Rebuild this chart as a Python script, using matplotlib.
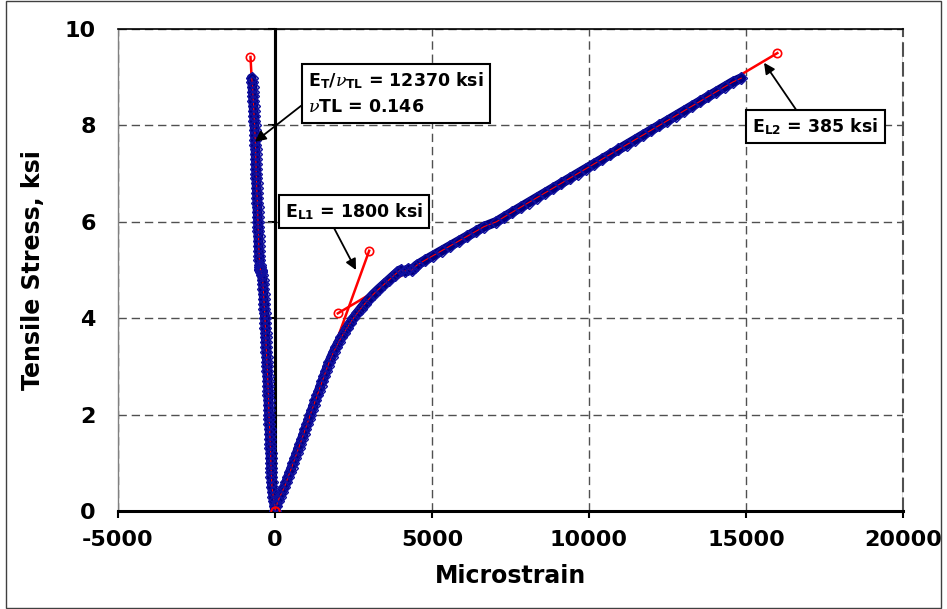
import numpy as np
import matplotlib
matplotlib.use("Agg")
import matplotlib.pyplot as plt
from matplotlib.patches import Rectangle

# -------------------------------
# Test data
# -------------------------------
stress = [0.0, 0.1, 0.2, 0.3, 0.4, 0.5, 0.6, 0.7, 0.8, 0.9,
          1.0, 1.1, 1.2, 1.3, 1.4, 1.5, 1.6, 1.7, 1.8, 1.9,
          2.0, 2.1, 2.2, 2.3, 2.4, 2.5, 2.6, 2.7, 2.8, 2.9,
          3.0, 3.1, 3.2, 3.3, 3.4, 3.5, 3.6, 3.7, 3.8, 3.9,
          4.0, 4.1, 4.2, 4.3, 4.4, 4.5, 4.6, 4.7, 4.8, 4.9,
          4.95, 5.0, 4.97, 5.02, 4.99, 5.06,
          5.1, 5.2, 5.3, 5.4, 5.5, 5.6, 5.7, 5.8, 5.9,
          6.0, 6.1, 6.2, 6.3, 6.4, 6.5, 6.6, 6.7, 6.8, 6.9,
          7.0, 7.1, 7.2, 7.3, 7.4, 7.5, 7.6, 7.7, 7.8, 7.9,
          8.0, 8.1, 8.2, 8.3, 8.4, 8.5, 8.6, 8.7, 8.8, 8.9, 8.98]

long_strain = [0, 40, 90, 160, 230, 300, 360, 415, 470, 530,
               585, 640, 695, 750, 805, 860, 915, 965, 1020, 1075,
               1125, 1180, 1235, 1290, 1345, 1400, 1455, 1510, 1565, 1620,
               1675, 1735, 1800, 1870, 1945, 2025, 2110, 2200, 2295, 2395,
               2500, 2615, 2735, 2860, 2995, 3140, 3300, 3470, 3640, 3810,
               3900, 4000, 4150, 4250, 4350, 4450,
               4520, 4770, 5040, 5310, 5580, 5850, 6120, 6390, 6660,
               7050, 7300, 7560, 7820, 8080, 8340, 8600, 8860, 9120, 9380,
               9640, 9900, 10160, 10420, 10680, 10940, 11200, 11460, 11720, 11980,
               12240, 12500, 12760, 13020, 13280, 13540, 13800, 14060, 14320, 14580, 14850]

trans_strain = [0, -15, -35, -55, -75, -95, -105, -112, -118, -124,
                -130, -135, -140, -146, -152, -158, -164, -170, -176, -183,
                -190, -195, -200, -205, -210, -215, -221, -228, -235, -242,
                -250, -257, -264, -272, -280, -287, -294, -300, -306, -312,
                -318, -327, -336, -345, -354, -363, -372, -381, -395, -420,
                -440, -450, -458, -465, -470, -478,
                -485, -495, -503, -510, -515, -520, -525, -530, -535,
                -540, -545, -550, -556, -562, -568, -574, -580, -586, -592,
                -598, -602, -606, -610, -614, -618, -624, -630, -636, -642,
                -650, -658, -666, -674, -682, -690, -698, -706, -714, -725, -745]

# fitted modulus lines (end points)
fit_t_x = [0, -780]
fit_t_y = [0, 9.42]
fit_l1_x = [0, 3000]
fit_l1_y = [0, 5.4]
fit_l2_x = [2000, 16000]
fit_l2_y = [4.1, 9.5]

xlim = (-5000, 20000)
ylim = (0, 10)
xticks = [-5000, 0, 5000, 10000, 15000, 20000]
yticks = [0, 2, 4, 6, 8, 10]

plt.rcParams["font.family"] = "DejaVu Sans"
plt.rcParams["font.weight"] = "bold"
plt.rcParams["axes.unicode_minus"] = False
plt.rcParams["mathtext.fontset"] = "custom"
plt.rcParams["mathtext.rm"] = "DejaVu Sans:bold"
plt.rcParams["mathtext.bf"] = "DejaVu Sans:bold"
plt.rcParams["mathtext.it"] = "DejaVu Serif:italic:normal"

fig = plt.figure(figsize=(9.47, 6.09), dpi=100)
ax = fig.add_axes([0.1246, 0.1609, 0.8289, 0.7915])

# -------------------------------
# Data series
# -------------------------------
for xs in (trans_strain, long_strain):
    ax.plot(xs, stress, color="#000080", lw=7, solid_capstyle="round", zorder=3)
    ax.plot(xs, stress, color="red", lw=0.8, marker="D", ms=6,
            mfc="none", mec="#1010a0", mew=1.0, zorder=4)

# -------------------------------
# Fit lines
# -------------------------------
for fx, fy in ((fit_t_x, fit_t_y), (fit_l1_x, fit_l1_y), (fit_l2_x, fit_l2_y)):
    ax.plot(fx, fy, color="red", lw=1.8, zorder=2.5)
    ax.plot(fx, fy, ls="none", marker="o", ms=6, mfc="none", mec="red",
            mew=1.2, zorder=5)

# -------------------------------
# Axes styling
# -------------------------------
ax.set_xlim(*xlim)
ax.set_ylim(*ylim)
ax.set_xticks(xticks)
ax.set_yticks(yticks)
ax.tick_params(axis="x", direction="out", length=5, width=1.5, pad=9, labelsize=16)
ax.tick_params(axis="y", length=0, pad=16, labelsize=16)

ax.spines["bottom"].set_linewidth(2.2)
ax.spines["top"].set_linewidth(1.2)
ax.spines["left"].set_color("#808080")
ax.spines["left"].set_linewidth(1)
ax.spines["right"].set_color("#505050")
ax.spines["right"].set_linestyle((0, (6, 3.5)))
ax.spines["right"].set_linewidth(1.5)

ax.grid(True, color="#505050", ls=(0, (6, 3.5)), lw=1)
ax.set_axisbelow(True)

# y axis crossing at zero strain (solid black line over the 0 gridline)
ax.axvline(0, color="black", lw=2.2, zorder=1)
zero_pos = (0 - xlim[0]) / (xlim[1] - xlim[0])
sec = ax.secondary_yaxis(zero_pos)
sec.set_yticks(yticks)
sec.tick_params(direction="out", length=5, width=1.5, labelleft=False, labelright=False)
sec.spines["left"].set_linewidth(2.2)

ax.set_xlabel("Microstrain", fontsize=17, fontweight="bold", labelpad=10)
ax.set_ylabel("Tensile Stress, ksi", fontsize=17, fontweight="bold", labelpad=14)

# -------------------------------
# Annotations
# -------------------------------
box = dict(boxstyle="square,pad=0.35", fc="white", ec="black", lw=1.5)


def arrow(rx, ry):
    return dict(arrowstyle="-|>", color="black", lw=1.3, mutation_scale=16,
                relpos=(rx, ry), shrinkA=0, shrinkB=0)


ax.annotate(r"E$_{\rm T}$/$\nu_{\rm TL}$ = 12370 ksi" + "\n" + r"$\nu$TL = 0.146",
            xy=(-637, 7.66), xytext=(1050, 8.66), fontsize=12.5,
            ha="left", va="center", bbox=box, arrowprops=arrow(0.0, 0.35),
            zorder=6, linespacing=1.5)
ax.annotate(r"E$_{\rm L1}$ = 1800 ksi", xy=(2580, 5.0), xytext=(2520, 6.22),
            fontsize=12.5, ha="center", va="center", bbox=box,
            arrowprops=arrow(0.33, 0.0), zorder=6)
ax.annotate(r"E$_{\rm L2}$ = 385 ksi", xy=(15575, 9.3), xytext=(17215, 7.98),
            fontsize=12.5, ha="center", va="center", bbox=box,
            arrowprops=arrow(0.38, 1.0), zorder=6)

# outer frame
fig.patches.append(Rectangle((0.006, 0.002), 0.988, 0.996, transform=fig.transFigure,
                             fill=False, ec="#404040", lw=1))

fig.savefig("out.png", dpi=100)
